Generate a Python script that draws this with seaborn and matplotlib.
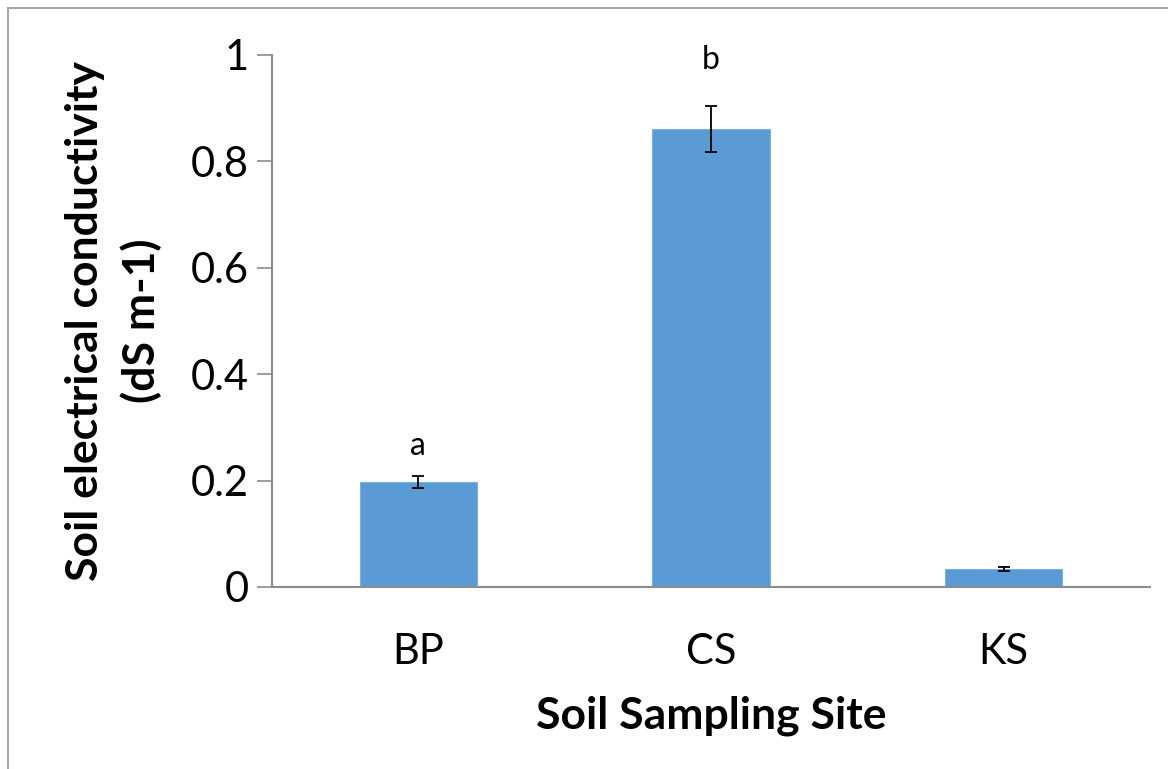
import matplotlib
matplotlib.use("Agg")
import matplotlib.pyplot as plt
import seaborn as sns
import pandas as pd
from matplotlib.lines import Line2D

sites = ["BP", "CS", "KS"]
ec_mean = [0.197, 0.861, 0.034]
ec_err = [0.011, 0.044, 0.004]
letters = ["a", "b", ""]
letter_y = [0.265, 0.99, None]

sns.set_theme(style="white")
plt.rcParams['font.family'] = ['Lato', 'DejaVu Sans']

W, H = 1168, 769
fig = plt.figure(figsize=(W / 100, H / 100), dpi=100)
ax = fig.add_axes([272 / W, (H - 587) / H, (1150 - 272) / W, (587 - 55) / H])

df = pd.DataFrame({"site": sites, "ec": ec_mean})
sns.barplot(data=df, x="site", y="ec", color="#5B9BD5", saturation=1,
            width=0.4, ax=ax, errorbar=None, edgecolor="#7EB0DE", linewidth=0.8)
ax.errorbar(range(len(sites)), ec_mean, yerr=ec_err, fmt="none",
            ecolor="black", elinewidth=1.3, capsize=4.3, capthick=1.3)

for i, (lab, ly) in enumerate(zip(letters, letter_y)):
    if lab:
        ax.text(i, ly, lab, ha="center", va="center", fontsize=23, color="black")

ax.set_xlim(-0.5, 2.5)
ax.set_ylim(0, 1)
ax.set_yticks([0, 0.2, 0.4, 0.6, 0.8, 1.0])
ax.set_yticklabels(["0", "0.2", "0.4", "0.6", "0.8", "1"])
ax.set_xticks([0, 1, 2])
ax.set_xticks([-0.5, 0.5, 1.5, 2.5], minor=True)
ax.tick_params(axis="x", which="major", length=0, labelsize=30, pad=33, colors="black")
ax.tick_params(axis="x", which="minor", length=11, width=1.2, color="#8C8C8C", direction="out")
ax.tick_params(axis="y", length=11, width=1.2, color="#8C8C8C", labelsize=30, pad=6,
               direction="out", left=True, labelcolor="black")

for s in ["top", "right"]:
    ax.spines[s].set_visible(False)
for s in ["left", "bottom"]:
    ax.spines[s].set_color("#8C8C8C")
    ax.spines[s].set_linewidth(1.5)

ax.set_xlabel("Soil Sampling Site", fontsize=32, fontweight="bold", labelpad=18, color="black")
ax.set_ylabel("Soil electrical conductivity\n(dS m-1)", fontsize=32, fontweight="bold",
              linespacing=1.45, color="black")
ax.yaxis.set_label_coords(-(272 - 162) / (1150 - 272), 0.5)

fig.add_artist(Line2D([8 / W, 8 / W], [0, 1 - 8 / H], transform=fig.transFigure,
                      color="#A6A6A6", linewidth=1.5))
fig.add_artist(Line2D([8 / W, 1], [1 - 8 / H, 1 - 8 / H], transform=fig.transFigure,
                      color="#A6A6A6", linewidth=1.5))

fig.savefig("out.png", dpi=100)
